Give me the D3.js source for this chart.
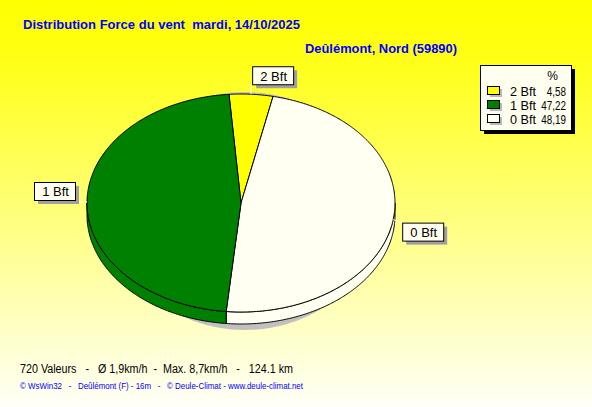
<!DOCTYPE html>
<html>
<head>
<meta charset="utf-8">
<title>Distribution Force du vent</title>
<script src="https://d3js.org/d3.v7.min.js"></script>
<style type="text/css">
	body{ margin:0; }
	text{ font-family: "Liberation Sans", Arial, sans-serif; white-space: pre; }
	.title{ fill:#0000ff; font-weight:bold; font-size:13px; }
	.slice{ stroke:black; stroke-width:1; }
	.lbl{ font-size:13px; fill:black; }
	.leg{ font-size:12px; fill:black; }
</style>
</head>
<body>
<svg id="chart" width="592" height="407"></svg>
<script>
// values
var categories = ["2 Bft", "1 Bft", "0 Bft"];
var percents = [4.58, 47.22, 48.19];
var percentLabels = ["4,58", "47,22", "48,19"];
var colors = ["#ffff00", "#008000", "#fffff2"];
// order of slices around the pie, clockwise from the top
var sliceOrder = ["2 Bft", "0 Bft", "1 Bft"];

var titleText = "Distribution Force du vent  mardi, 14/10/2025";
var placeText = "Deûlémont, Nord (59890)";
var statsText = "720 Valeurs   -   Ø 1,9km/h  -  Max. 8,7km/h   -   124.1 km";
var creditText = "© WsWin32   -   Deûlémont (F) - 16m   -   © Deule-Climat - www.deule-climat.net";

var svg = d3.select("#chart");
var width = +svg.attr("width");
var height = +svg.attr("height");

// background
var defs = svg.append("defs");
var grad = defs.append("linearGradient").attr("id","bg")
	.attr("x1",0).attr("y1",0).attr("x2",0).attr("y2",1);
grad.append("stop").attr("offset","0%").attr("stop-color","#ffff00");
grad.append("stop").attr("offset","12%").attr("stop-color","#ffff10");
grad.append("stop").attr("offset","100%").attr("stop-color","#fffff8");
svg.append("rect").attr("width",width).attr("height",height).attr("fill","url(#bg)");

svg.append("text").attr("class","title").attr("x",23).attr("y",29)
	.attr("textLength",277).attr("lengthAdjust","spacingAndGlyphs").text(titleText);
svg.append("text").attr("class","title").attr("x",305).attr("y",53)
	.attr("textLength",152).attr("lengthAdjust","spacingAndGlyphs").text(placeText);

// pie geometry
var cx = 241, cy = 203, rx = 154, ry = 109, depth = 12;
var color = d3.scaleOrdinal().domain(categories).range(colors);
var value = {};
categories.forEach(function(c,i){ value[c] = percents[i]; });

var start = -0.078;
var pie = d3.pie().sort(null).value(function(d){ return value[d]; })
	.startAngle(start).endAngle(start + 2*Math.PI);
var arcs = pie(sliceOrder);

function px(a){ return cx + rx*Math.sin(a); }
function py(a){ return cy - ry*Math.cos(a); }
var line = d3.line();

// shadow
svg.append("ellipse").attr("cx",cx+4).attr("cy",cy+8).attr("rx",rx-20).attr("ry",ry+10)
	.attr("fill","#c0c0c0");

// side walls (front half only)
var g = svg.append("g");
arcs.forEach(function(d){
	var a0 = Math.max(d.startAngle, Math.PI/2);
	var a1 = Math.min(d.endAngle, 3*Math.PI/2);
	if (a1 <= a0) return;
	var angs = d3.range(a0, a1, 0.01).concat([a1]);
	var top = angs.map(function(a){ return [px(a), py(a)]; });
	var bot = angs.slice().reverse().map(function(a){ return [px(a), py(a)+depth]; });
	g.append("path").attr("class","slice")
		.attr("fill", color(d.data))
		.attr("d", line(top.concat(bot)) + "Z");
});

// top faces
arcs.forEach(function(d){
	var angs = d3.range(d.startAngle, d.endAngle, 0.01).concat([d.endAngle]);
	var pts = [[cx,cy]].concat(angs.map(function(a){ return [px(a), py(a)]; }));
	g.append("path").attr("class","slice")
		.attr("fill", color(d.data))
		.attr("d", line(pts) + "Z");
});

// slice labels
var boxW = 41, boxH = 18;
arcs.forEach(function(d){
	var m = (d.startAngle + d.endAngle)/2;
	var ax = px(m), ay = py(m);
	var bx, by, lx, ly;
	var s = Math.sin(m), c = Math.cos(m);
	if (c > 0.7) { bx = ax+1; by = ay-10-boxH; lx = ax; ly = ay-10; }
	else if (s > 0) { bx = ax+9; by = ay+3; lx = ax+9; ly = ay+3; }
	else { bx = ax-12-boxW; by = ay-2-boxH; lx = ax-12; ly = ay; }
	svg.append("line").attr("x1",ax).attr("y1",ay).attr("x2",lx).attr("y2",ly)
		.attr("stroke","white");
	svg.append("rect").attr("x",bx+4).attr("y",by+4).attr("width",boxW).attr("height",boxH)
		.attr("fill","#a0a0a0");
	svg.append("rect").attr("x",bx+0.5).attr("y",by+0.5).attr("width",boxW).attr("height",boxH)
		.attr("fill","#fffff0").attr("stroke","black");
	svg.append("text").attr("class","lbl").attr("x",bx+boxW/2+1).attr("y",by+boxH/2+5.5)
		.attr("text-anchor","middle").text(d.data);
});

// legend
var lg = svg.append("g").attr("transform","translate(480,65)");
lg.append("rect").attr("x",4).attr("y",4).attr("width",91).attr("height",65).attr("fill","black");
lg.append("rect").attr("x",0.5).attr("y",0.5).attr("width",91).attr("height",65)
	.attr("fill","#fffff0").attr("stroke","black");
lg.append("text").attr("class","leg").attr("x",78).attr("y",15).attr("text-anchor","end").text("%");
var rowY = d3.scaleLinear().domain([0,1]).range([22,36]);
categories.forEach(function(cat,i){
	var y = rowY(i);
	lg.append("rect").attr("x",10).attr("y",y+2).attr("width",12).attr("height",8).attr("fill","#b8b8b8");
	lg.append("rect").attr("x",7.5).attr("y",y-0.5).attr("width",12).attr("height",8)
		.attr("fill",color(cat)).attr("stroke","black");
	lg.append("text").attr("class","leg").attr("x",30).attr("y",y+8.5)
		.attr("textLength",26).attr("lengthAdjust","spacingAndGlyphs").text(cat);
	var v = lg.append("text").attr("class","leg").attr("x",86).attr("y",y+8.5)
		.attr("text-anchor","end").text(percentLabels[i]);
	var w = v.node().getComputedTextLength();
	v.attr("textLength", w*0.82).attr("lengthAdjust","spacingAndGlyphs");
});

// footer
svg.append("text").attr("x",20).attr("y",373).attr("font-size","12px").attr("fill","black")
	.attr("textLength",273).attr("lengthAdjust","spacingAndGlyphs").text(statsText);
svg.append("text").attr("x",20).attr("y",389).attr("font-size","9px").attr("fill","#0000ff")
	.attr("textLength",283).attr("lengthAdjust","spacingAndGlyphs").text(creditText);
</script>
</body>
</html>
